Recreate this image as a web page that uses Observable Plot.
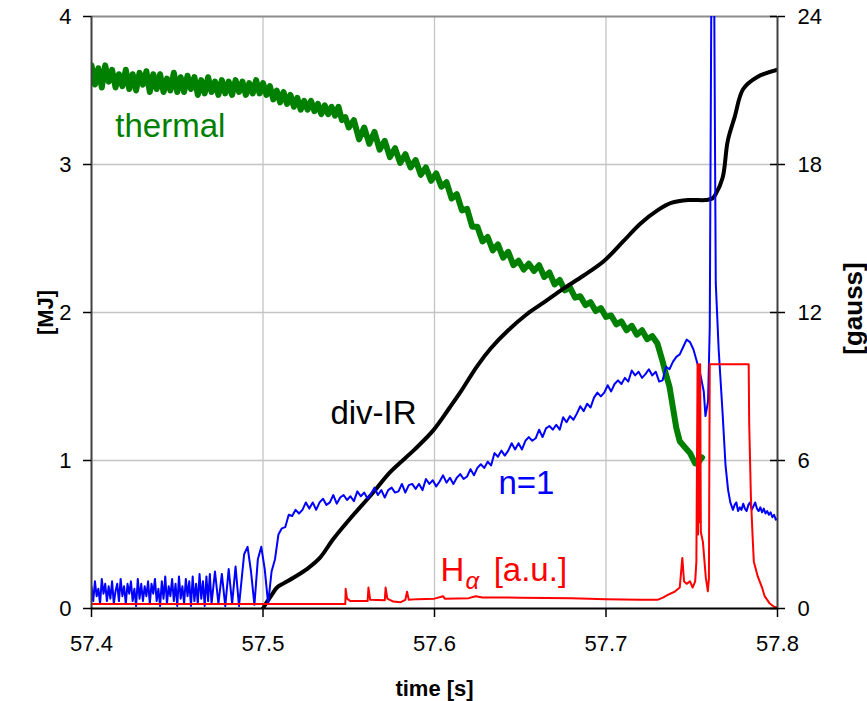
<!DOCTYPE html>
<html><head><meta charset="utf-8">
<script src="https://cdn.jsdelivr.net/npm/d3@7"></script>
<script src="https://cdn.jsdelivr.net/npm/@observablehq/plot@0.6"></script>
<style>body{margin:0;background:#fff}</style>
</head><body><div id="chart"></div>
<script>
// ---- tick labels ----
const xTicks = [57.4, 57.5, 57.6, 57.7, 57.8];
const mjTicks = [0, 1, 2, 3, 4];
const gaussTicks = [0, 6, 12, 18, 24];

// ---- thermal energy [MJ] (green, left axis): [time s, MJ] ----
const thermalData = [
[57.400,3.67],[57.402,3.54],[57.404,3.65],[57.406,3.52],[57.408,3.67],[57.410,3.56],[57.412,3.64],[57.414,3.52],[57.416,3.61],[57.418,3.53],
[57.420,3.64],[57.422,3.51],[57.424,3.61],[57.426,3.50],[57.428,3.62],[57.430,3.54],[57.432,3.63],[57.434,3.49],[57.436,3.61],[57.438,3.51],
[57.440,3.61],[57.442,3.49],[57.444,3.58],[57.446,3.50],[57.448,3.62],[57.450,3.49],[57.452,3.59],[57.454,3.49],[57.456,3.60],[57.458,3.51],
[57.460,3.59],[57.462,3.47],[57.464,3.57],[57.466,3.48],[57.468,3.59],[57.470,3.49],[57.472,3.56],[57.474,3.47],[57.476,3.57],[57.478,3.48],
[57.480,3.56],[57.482,3.47],[57.484,3.57],[57.486,3.49],[57.488,3.56],[57.490,3.47],[57.492,3.55],[57.494,3.48],[57.496,3.57],[57.498,3.48],
[57.500,3.55],[57.502,3.47],[57.504,3.53],[57.506,3.44],[57.508,3.50],[57.510,3.42],[57.512,3.49],[57.514,3.41],[57.516,3.47],[57.518,3.39],
[57.520,3.45],[57.522,3.37],[57.524,3.43],[57.526,3.37],[57.528,3.43],[57.530,3.36],[57.532,3.41],[57.534,3.34],[57.536,3.40],[57.538,3.34],
[57.540,3.39],[57.542,3.33],[57.544,3.39],[57.546,3.30],[57.548,3.32],[57.550,3.25],
[57.553,3.30],[57.556,3.17],[57.559,3.25],[57.562,3.14],[57.565,3.22],[57.568,3.10],[57.571,3.16],[57.574,3.05],[57.577,3.11],[57.580,3.01],
[57.583,3.07],[57.586,2.98],[57.589,3.03],[57.592,2.93],[57.595,2.98],[57.598,2.89],[57.601,2.94],[57.604,2.85],[57.607,2.88],[57.610,2.77],
[57.613,2.80],[57.616,2.69],[57.619,2.70],[57.622,2.58],[57.625,2.58],[57.628,2.48],[57.631,2.51],[57.634,2.42],[57.637,2.46],[57.640,2.37],
[57.643,2.41],[57.646,2.32],[57.649,2.35],[57.652,2.29],[57.655,2.33],[57.658,2.28],[57.661,2.32],[57.664,2.24],[57.667,2.27],[57.670,2.19],
[57.673,2.22],[57.676,2.15],[57.679,2.17],[57.682,2.10],[57.685,2.11],[57.688,2.05],[57.691,2.07],[57.694,2.01],[57.697,2.03],[57.700,1.97],
[57.703,1.98],[57.706,1.92],[57.709,1.94],[57.712,1.88],[57.715,1.91],[57.718,1.85],[57.721,1.88],[57.724,1.82],[57.727,1.84],[57.730,1.79],
[57.733,1.67],[57.735,1.58],[57.737,1.50],[57.739,1.36],[57.741,1.22],[57.743,1.13],[57.746,1.09],[57.749,1.05],[57.752,0.98],[57.754,0.99],[57.756,1.02]
];

// ---- divertor IR energy [MJ] (black, left axis) ----
const divIRData = [
[57.500,0.00],[57.501,0.02],[57.505,0.09],[57.508,0.14],[57.512,0.17],[57.518,0.21],[57.526,0.27],[57.533,0.34],[57.541,0.47],[57.551,0.61],
[57.564,0.78],[57.574,0.92],[57.588,1.07],[57.599,1.20],[57.609,1.36],[57.615,1.46],[57.625,1.64],[57.633,1.76],[57.643,1.88],[57.654,1.99],
[57.664,2.07],[57.675,2.16],[57.687,2.25],[57.699,2.35],[57.710,2.48],[57.720,2.60],[57.730,2.69],[57.738,2.74],[57.748,2.76],[57.758,2.76],
[57.762,2.77],[57.764,2.80],[57.768,2.91],[57.771,3.16],[57.775,3.32],[57.780,3.51],[57.788,3.59],[57.800,3.64]
];

// ---- n=1 mode amplitude [gauss] (blue, right axis) ----
const n1Data = [
[57.400,0.9],[57.401,0.3],[57.402,1.1],[57.403,0.5],[57.404,0.8],[57.405,0.2],[57.406,1.2],[57.407,0.6],[57.408,1.0],[57.409,0.3],
[57.410,0.9],[57.411,0.4],[57.412,1.1],[57.413,0.2],[57.414,0.7],[57.415,1.0],[57.416,0.3],[57.417,1.2],[57.418,0.5],[57.419,0.9],
[57.420,0.2],[57.421,1.0],[57.422,0.6],[57.423,1.1],[57.424,0.3],[57.425,0.8],[57.426,0.1],[57.427,1.2],[57.428,0.4],[57.429,1.0],
[57.430,0.3],[57.431,0.9],[57.432,0.5],[57.433,1.1],[57.434,0.2],[57.435,1.0],[57.436,0.6],[57.437,1.2],[57.438,0.3],[57.439,0.8],
[57.440,0.1],[57.441,1.1],[57.442,0.4],[57.443,1.3],[57.444,0.2],[57.445,0.9],[57.446,0.5],[57.447,1.2],[57.448,0.3],[57.449,1.0],
[57.450,0.1],[57.451,1.3],[57.452,0.4],[57.453,0.9],[57.454,0.2],[57.455,1.2],[57.456,0.5],[57.457,1.1],[57.458,0.1],[57.459,1.3],
[57.460,0.3],[57.461,1.0],[57.462,0.2],[57.463,1.4],[57.464,0.4],[57.465,1.1],[57.466,0.1],[57.467,1.3],[57.468,0.3],[57.469,1.4],[57.470,0.2],
[57.472,1.5],[57.474,0.2],[57.476,1.4],[57.478,0.1],[57.480,1.6],[57.482,0.2],[57.484,1.7],[57.486,0.1],
[57.489,2.2],[57.491,2.5],[57.493,1.5],[57.495,0.15],[57.497,2.0],[57.499,2.5],[57.501,1.6],[57.503,0.2],[57.505,1.5],
[57.507,2.0],[57.509,3.0],[57.511,3.25],[57.513,3.3],[57.515,3.8],[57.517,3.75],[57.519,4.0],[57.521,3.85],[57.523,4.0],[57.525,4.3],
[57.527,4.05],[57.529,4.3],[57.531,4.0],[57.533,4.3],[57.535,4.45],[57.537,4.2],[57.539,4.3],[57.541,4.6],[57.543,4.25],[57.545,4.5],
[57.547,4.6],[57.549,4.4],[57.551,4.55],[57.553,4.35],[57.555,4.75],[57.557,4.55],[57.559,4.7],[57.561,4.45],[57.563,4.65],[57.565,4.9],
[57.567,4.6],[57.569,4.8],[57.571,4.5],[57.573,4.8],[57.575,4.9],[57.577,4.7],[57.579,4.75],[57.581,5.05],[57.583,4.7],[57.585,5.0],
[57.587,5.05],[57.589,4.85],[57.591,5.05],[57.593,4.8],[57.595,5.25],[57.597,5.05],[57.599,5.2],[57.601,4.95],[57.603,5.15],[57.605,5.4],
[57.607,5.1],[57.609,5.3],[57.611,5.05],[57.613,5.3],[57.615,5.45],[57.617,5.25],[57.619,5.35],[57.621,5.65],[57.623,5.4],[57.625,5.7],
[57.627,5.85],[57.629,5.7],[57.631,5.95],[57.633,5.8],[57.635,6.3],[57.637,6.15],[57.639,6.4],[57.641,6.2],[57.643,6.4],[57.645,6.7],
[57.647,6.45],[57.649,6.7],[57.651,6.45],[57.653,6.8],[57.655,6.95],[57.657,6.8],[57.659,6.9],[57.661,7.25],[57.663,6.95],[57.665,7.3],
[57.667,7.4],[57.669,7.25],[57.671,7.45],[57.673,7.25],[57.675,7.75],[57.677,7.55],[57.679,7.8],[57.681,7.65],[57.683,7.9],[57.685,8.2],
[57.687,8.0],[57.689,8.3],[57.691,8.15],[57.693,8.55],[57.695,8.75],[57.697,8.6],[57.699,8.75],[57.701,9.05],[57.703,8.8],[57.705,9.1],
[57.707,9.25],[57.709,9.1],[57.711,9.35],[57.713,9.2],[57.715,9.65],[57.717,9.45],[57.719,9.6],[57.721,9.35],[57.723,9.5],[57.725,9.7],
[57.727,9.45],[57.729,9.6],[57.731,9.2],[57.733,9.25],
[57.735,9.8],[57.737,9.7],[57.739,10.0],[57.741,10.2],[57.743,10.3],[57.745,10.6],[57.747,10.9],[57.749,10.8],[57.751,10.5],[57.753,10.0],
[57.755,9.5],[57.757,8.8],[57.758,7.8],[57.7595,8.4],[57.7605,11.4],[57.7615,26],[57.7630,26],[57.7640,13.2],[57.7657,10.5],[57.7680,7.9],
[57.7697,5.8],[57.7712,4.8],[57.7725,4.3],
[57.774,4.0],[57.775,4.2],[57.776,4.3],[57.777,3.95],[57.778,4.1],[57.779,4.0],[57.780,4.25],[57.781,4.05],[57.782,3.95],[57.783,4.2],
[57.784,4.3],[57.785,4.0],[57.786,4.15],[57.787,4.3],[57.788,4.05],[57.789,3.95],[57.790,4.1],[57.791,3.9],[57.792,4.05],[57.793,3.85],
[57.794,3.95],[57.795,3.8],[57.796,3.9],[57.797,3.7],[57.798,3.8],[57.799,3.6],[57.800,3.65]
];

// ---- H-alpha [a.u.] (red, drawn on gauss axis) ----
const halphaData = [
[57.400,0.18],[57.548,0.18],[57.5482,0.8],[57.549,0.4],[57.551,0.3],[57.561,0.3],[57.5615,0.85],[57.5625,0.35],[57.571,0.33],[57.5715,0.85],
[57.5725,0.4],[57.576,0.28],[57.580,0.25],[57.583,0.35],[57.584,0.68],[57.585,0.35],[57.590,0.38],[57.600,0.40],[57.605,0.5],[57.606,0.40],
[57.620,0.42],[57.624,0.5],[57.628,0.45],[57.650,0.44],[57.680,0.42],[57.700,0.38],[57.720,0.35],[57.730,0.35],[57.7335,0.45],[57.736,0.55],
[57.740,0.68],[57.7430,0.85],[57.7445,2.05],[57.7455,1.1],[57.7470,1.0],[57.749,1.1],[57.7505,0.85],[57.7520,1.1],[57.7527,1.9],[57.7534,9.9],
[57.7537,3.0],[57.7541,9.9],[57.7545,3.5],[57.7549,9.9],[57.7553,3.1],[57.7565,2.7],[57.7582,1.25],[57.7594,0.7],[57.7600,1.2],[57.7605,9.9],
[57.7832,9.9],[57.7835,7.5],[57.7845,4.5],[57.7855,2.9],[57.7862,1.9],[57.7885,1.3],[57.7910,0.85],[57.7925,0.5],[57.7955,0.2],[57.7980,0.07],[57.8000,0.03]
];

const toRows = arr => arr.map(([t, v]) => ({t, v}));
const thermal = toRows(thermalData);
const divIR = toRows(divIRData);
const n1 = toRows(n1Data);
const halpha = toRows(halphaData);

const FONT = "'Liberation Sans', Arial, Helvetica, sans-serif";
const G = 6; // gauss per MJ on the shared vertical scale
const rightTicks = gaussTicks.map(g => g / G);

const chart = Plot.plot({
  width: 867, height: 701,
  marginLeft: 91, marginRight: 90, marginTop: 16, marginBottom: 93,
  style: {fontFamily: FONT, background: "white", color: "black"},
  x: {domain: [57.4, 57.8]},
  y: {domain: [0, 4]},
  marks: [
    Plot.gridX(xTicks.slice(1, -1), {stroke: "#c4c4c4", strokeOpacity: 1, strokeWidth: 1.3}),
    Plot.gridY(mjTicks.slice(1, -1), {stroke: "#c4c4c4", strokeOpacity: 1, strokeWidth: 1.3}),
    Plot.ruleY([4], {stroke: "#8c8c8c", strokeWidth: 2}),
    Plot.line(thermal, {x: "t", y: "v", stroke: "#008000", strokeWidth: 6, clip: true}),
    Plot.line(divIR, {x: "t", y: "v", stroke: "#000000", strokeWidth: 4, curve: "catmull-rom", clip: true}),
    Plot.line(n1, {x: "t", y: d => d.v / G, stroke: "#0000ff", strokeWidth: 2, clip: true}),
    Plot.line(halpha, {x: "t", y: d => d.v / G, stroke: "#ff0000", strokeWidth: 2, clip: true}),
    Plot.ruleX([57.4], {stroke: "#404040", strokeWidth: 2}),
    Plot.ruleX([57.8], {stroke: "#404040", strokeWidth: 2}),
    Plot.ruleY([0], {stroke: "#000000", strokeWidth: 2}),
    Plot.axisX({ticks: xTicks, tickFormat: d => d.toFixed(1), tickSize: 9, tickPadding: 18, fontSize: 22, label: null, strokeWidth: 1.5}),
    Plot.axisY({ticks: mjTicks, tickFormat: d => String(d), tickSize: 8, tickPadding: 12, fontSize: 22, label: null, strokeWidth: 1.5}),
    Plot.axisY({anchor: "right", ticks: rightTicks, tickFormat: d => String(Math.round(d * G)), tickSize: 7, tickPadding: 13, fontSize: 22, label: null, strokeWidth: 1.5}),
    Plot.tickY(rightTicks, {y: d => d, insetLeft: 679, stroke: "#000000", strokeWidth: 1.5}),
    // series labels
    Plot.text([{t: 57.4139, v: 3.183, s: "thermal"}], {x: "t", y: "v", text: "s", fill: "#008000", fontSize: 33, textAnchor: "start", lineAnchor: "bottom"}),
    Plot.text([{t: 57.5393, v: 1.249, s: "div-IR"}], {x: "t", y: "v", text: "s", fill: "#000000", fontSize: 33, textAnchor: "start", lineAnchor: "bottom"}),
    Plot.text([{t: 57.6373, v: 0.776, s: "n=1"}], {x: "t", y: "v", text: "s", fill: "#0000ff", fontSize: 33, textAnchor: "start", lineAnchor: "bottom"}),
    Plot.text([{t: 57.6035, v: 0.1866, s: "H"}], {x: "t", y: "v", text: "s", fill: "#ff0000", fontSize: 33, textAnchor: "start", lineAnchor: "bottom"}),
    Plot.text([{t: 57.6181, v: 0.133, s: "α"}], {x: "t", y: "v", text: "s", fill: "#ff0000", fontSize: 24, fontStyle: "italic", textAnchor: "start", lineAnchor: "bottom"}),
    Plot.text([{t: 57.6345, v: 0.1866, s: "[a.u.]"}], {x: "t", y: "v", text: "s", fill: "#ff0000", fontSize: 33, textAnchor: "start", lineAnchor: "bottom"}),
    // axis titles
    Plot.text(["time [s]"], {text: d => d, frameAnchor: "bottom", textAnchor: "middle", dy: 87, lineAnchor: "bottom", fontSize: 22, fontWeight: "bold"}),
    Plot.text(["[MJ]"], {text: d => d, frameAnchor: "left", textAnchor: "middle", dx: -46, rotate: -90, fontSize: 22, fontWeight: "bold"}),
    Plot.text(["[gauss]"], {text: d => d, frameAnchor: "right", textAnchor: "middle", dx: 76, dy: -4, rotate: -90, fontSize: 26, fontWeight: "bold"})
  ]
});
document.getElementById("chart").appendChild(chart);
</script>
</body></html>
